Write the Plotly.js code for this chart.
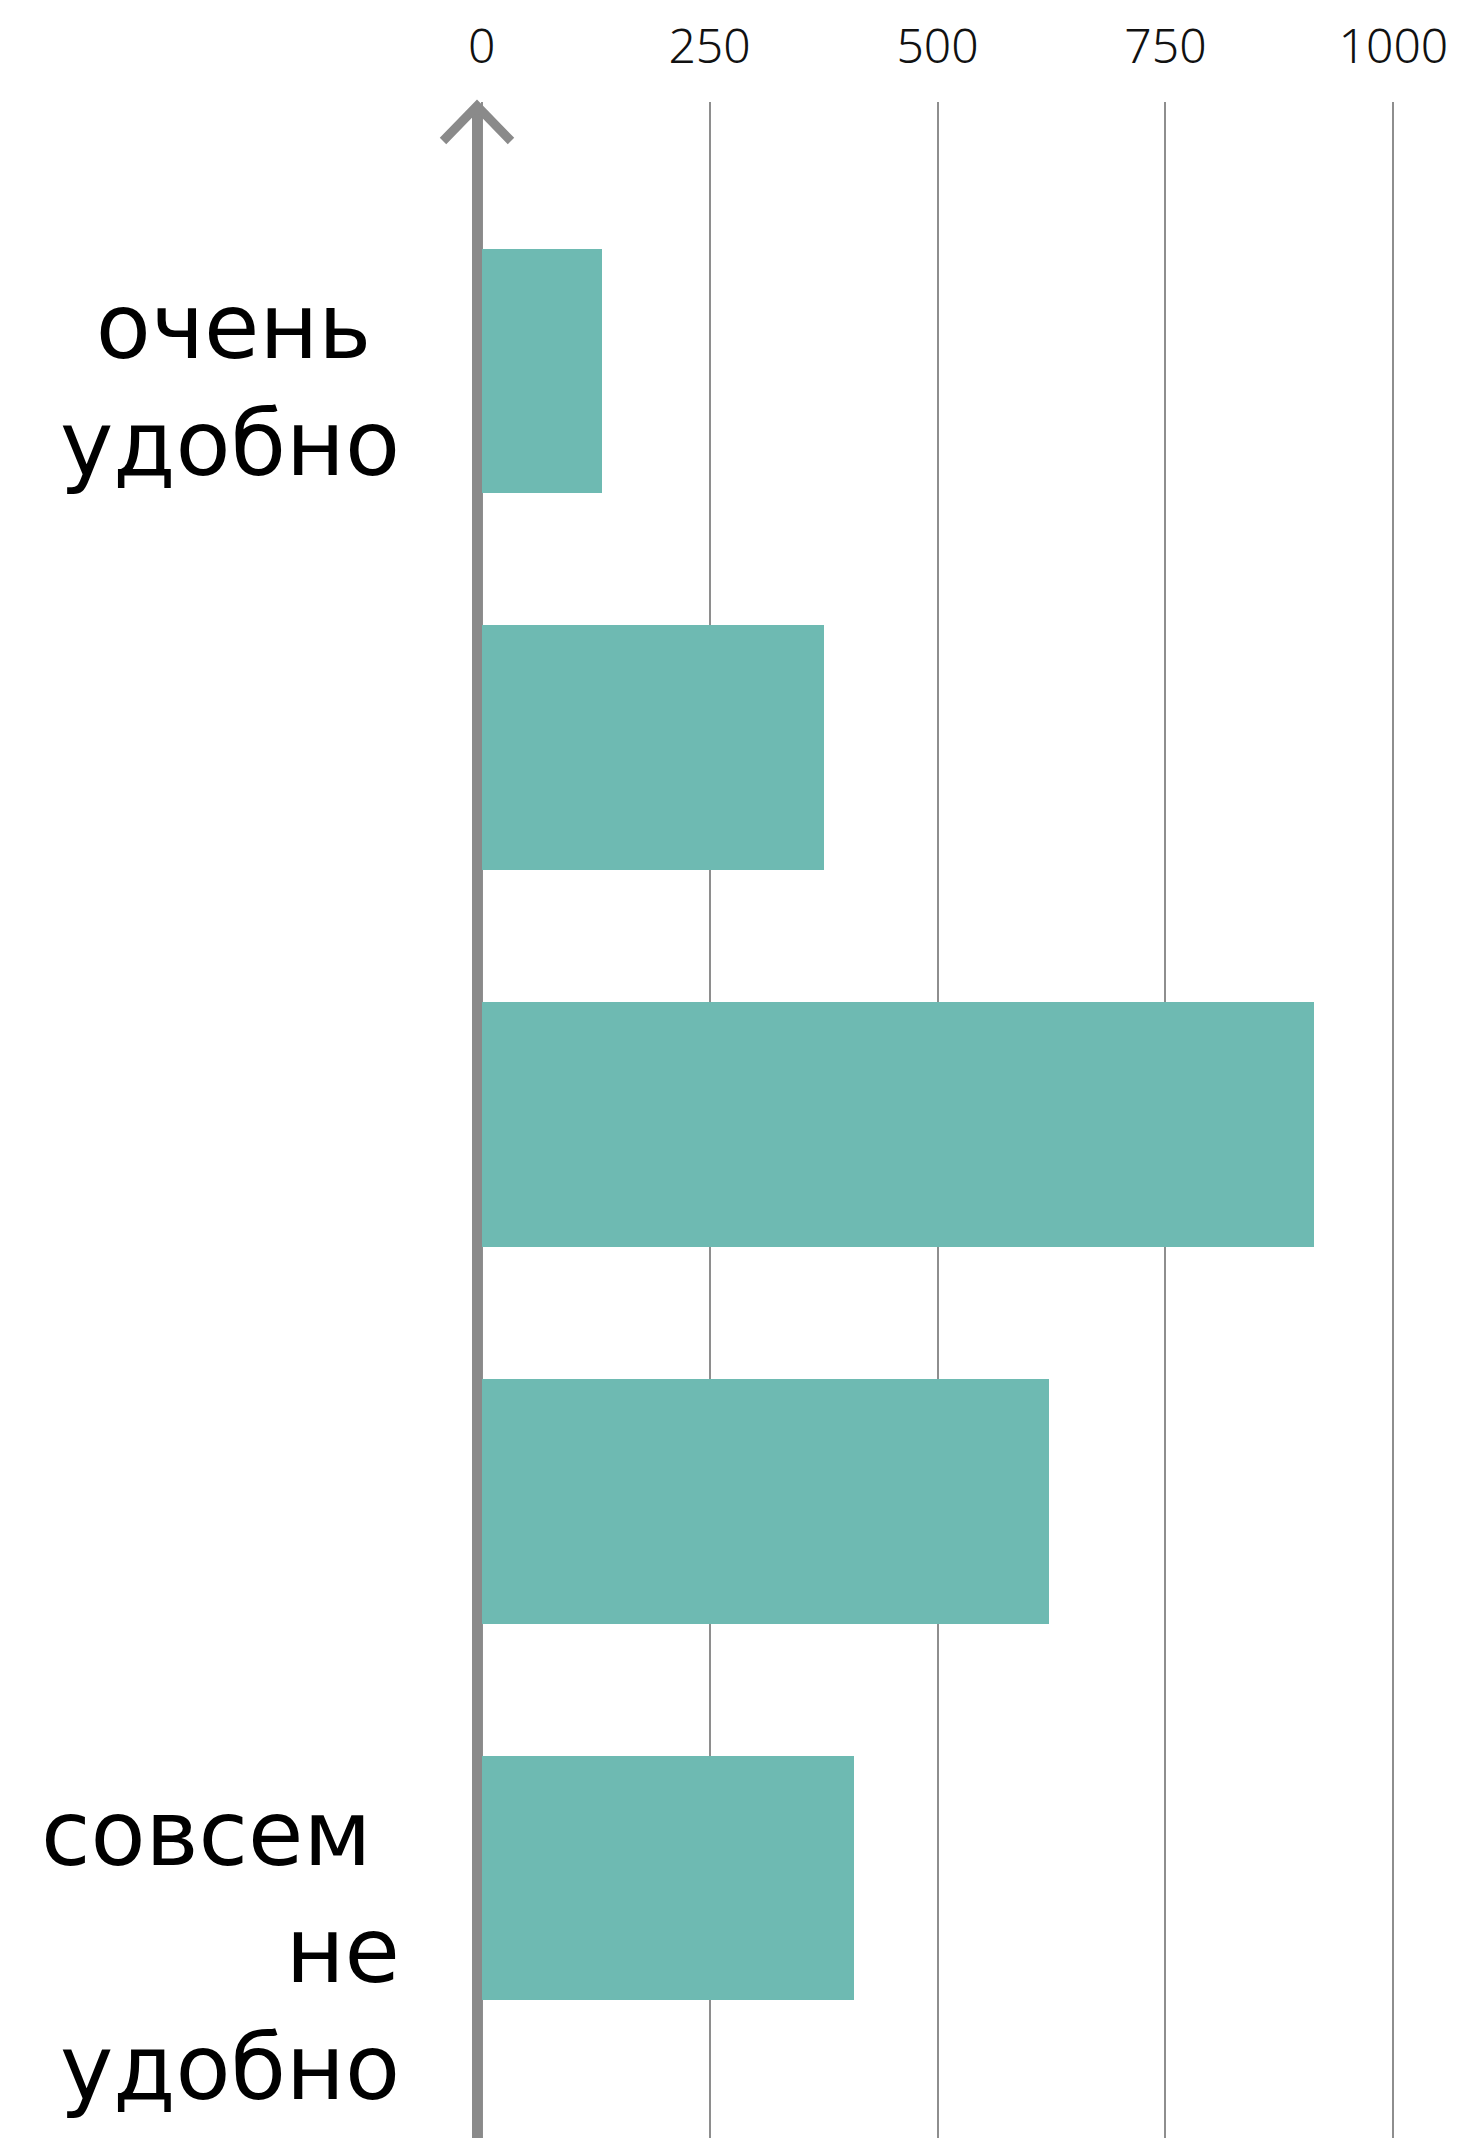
<!DOCTYPE html>
<html>
<head>
<meta charset="utf-8">
<script src="https://cdn.plot.ly/plotly-3.0.1.min.js"></script>
<style>
  html, body { margin: 0; padding: 0; background: #ffffff; }
  #chart { width: 1461px; height: 2138px; }
</style>
</head>
<body>
<div id="chart"></div>
<script>
// ---- data ----
const categories = ["очень удобно", "", "", "", "совсем не удобно"];
const positions = [0, 1, 2, 3, 4];
const values = [132, 376, 913, 622, 408];
const tickValues = [0, 250, 500, 750, 1000];
const tickLabels = ["0", "250", "500", "750", "1000"];

// ---- style ----
const LABEL_FONT = "'DejaVu Sans', 'Noto Sans', sans-serif";
const TICK_FONT = "'Noto Sans', 'DejaVu Sans', sans-serif";
const BAR_COLOR = "#6ebab2";
const AXIS_COLOR = "#8a8a8a";

const W = 1461, H = 2138;
const M = { l: 436, r: 22, t: 102, b: 0 };
const plotW = W - M.l - M.r, plotH = H - M.t - M.b;
const px2paperX = px => (px - M.l) / plotW;
const px2paperY = py => 1 - (py - M.t) / plotH;

const trace = {
  type: "bar",
  orientation: "h",
  y: positions,
  x: values,
  width: 0.65,
  marker: { color: BAR_COLOR, line: { width: 0 } },
  hoverinfo: "skip"
};

// category labels: one right-aligned multi-line annotation per labelled bar
const labelShiftY = { 0: -14, 4: -72 };
const annotations = [];
categories.forEach((cat, i) => {
  if (!cat) return;
  const words = cat.split(" ");
  // the first word of each label sits a little left (trailing space in the original)
  const lines = words.map((w, j) => (j === 0 && words.length > 1) ? w + "\u00a0" : w);
  annotations.push({
    xref: "x", yref: "y",
    x: 0, y: positions[i],
    xanchor: "right", yanchor: "middle", align: "right",
    xshift: -80, yshift: labelShiftY[i],
    text: lines.join("<br>"), showarrow: false,
    font: { family: LABEL_FONT, size: 90, color: "#000000" }
  });
});

// vertical axis with arrow head
const ax = px2paperX(477);
const shapes = [
  { type: "line", xref: "paper", yref: "paper",
    x0: ax, x1: ax, y0: -0.01, y1: px2paperY(106),
    line: { color: AXIS_COLOR, width: 10 }, layer: "above" },
  { type: "path", xref: "paper", yref: "paper",
    path: `M ${px2paperX(443)} ${px2paperY(141)} L ${ax} ${px2paperY(106)} L ${px2paperX(511)} ${px2paperY(141)}`,
    line: { color: AXIS_COLOR, width: 9 }, layer: "above" }
];

const layout = {
  width: W, height: H,
  margin: M,
  paper_bgcolor: "#ffffff",
  plot_bgcolor: "#ffffff",
  showlegend: false,
  bargap: 0,
  xaxis: {
    side: "top",
    range: [-50, 1050],
    tickmode: "array",
    tickvals: tickValues,
    ticktext: tickLabels,
    ticks: "",
    showgrid: true,
    gridcolor: "#8e8e8e",
    gridwidth: 2,
    zeroline: false,
    showline: false,
    tickfont: { family: TICK_FONT, size: 48, color: "#111111", weight: 300 },
    ticklabelstandoff: 28,
    fixedrange: true
  },
  yaxis: {
    range: [4.69, -0.714],
    showgrid: false,
    zeroline: false,
    showline: false,
    showticklabels: false,
    ticks: "",
    fixedrange: true
  },
  annotations: annotations,
  shapes: shapes
};

Plotly.newPlot("chart", [trace], layout, { staticPlot: true, displayModeBar: false });
</script>
</body>
</html>
